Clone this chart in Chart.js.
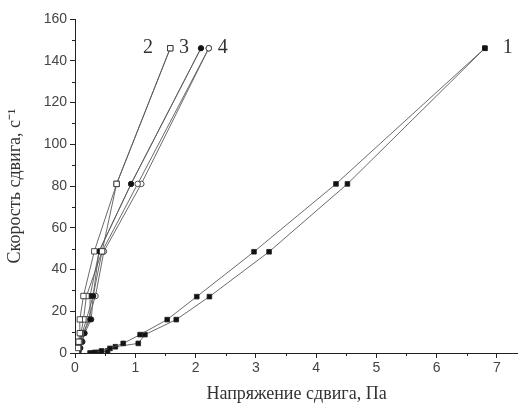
<!DOCTYPE html>
<html>
<head>
<meta charset="utf-8">
<script src="https://cdn.jsdelivr.net/npm/chart.js@4"></script>
<style>
  html, body { margin: 0; padding: 0; background: #fff; }
  #wrap { width: 518px; height: 409px; }
</style>
</head>
<body>
<div id="wrap"><canvas id="myChart"></canvas></div>
<script>
// shear rate levels (y) and shear stress (x) for each branch
const yLevels1 = [0, 0.3, 1, 2.2, 4.6, 8.8, 16, 27, 48.5, 81, 146];
const yLevels1b = [0, 0.3, 1, 3, 4.6, 8.8, 16, 27, 48.5, 81, 146];
const s1up = [0.25, 0.33, 0.44, 0.58, 0.80, 1.08, 1.53, 2.02, 2.97, 4.33, 6.80];
const s1down = [0.30, 0.40, 0.54, 0.67, 1.05, 1.16, 1.68, 2.23, 3.22, 4.52, 6.80];

const yLevels = [0.6, 2.4, 5.4, 9.5, 16.1, 27.3, 48.7, 81, 146];
const s2up = [0.03, 0.05, 0.06, 0.08, 0.08, 0.14, 0.32, 0.69, 1.58];
const s2down = [0.04, 0.06, 0.08, 0.10, 0.14, 0.19, 0.45, 0.69, 1.58];
const s3up = [0.05, 0.07, 0.10, 0.13, 0.25, 0.25, 0.40, 0.93, 2.09];
const s3down = [0.06, 0.09, 0.12, 0.16, 0.27, 0.30, 0.40, 0.93, 2.09];
const s4up = [0.04, 0.07, 0.09, 0.12, 0.19, 0.30, 0.45, 1.04, 2.22];
const s4down = [0.05, 0.08, 0.12, 0.15, 0.22, 0.34, 0.48, 1.10, 2.22];

const xTicks = [0, 1, 2, 3, 4, 5, 6, 7];
const yTicks = [0, 20, 40, 60, 80, 100, 120, 140, 160];

// curve labels (data coords)
const curveLabels = [
  { text: '1', x: 7.18, y: 146 },
  { text: '2', x: 1.21, y: 146 },
  { text: '3', x: 1.81, y: 146 },
  { text: '4', x: 2.45, y: 146 }
];

function pts(xs, ys) {
  return xs.map((x, i) => ({ x: x, y: ys[i] }));
}

const lineColor = '#5a5a5a';
function ds(xs, ys, style, filled, radius) {
  return {
    data: pts(xs, ys),
    showLine: true,
    borderColor: lineColor,
    borderWidth: 0.9,
    pointStyle: style,
    pointRadius: radius,
    pointBackgroundColor: filled ? '#111' : '#fff',
    pointBorderColor: '#222',
    pointBorderWidth: 0.8,
    fill: false,
    tension: 0
  };
}

const datasets = [
  ds(s1up, yLevels1, 'rect', true, 3.3),
  ds(s1down, yLevels1b, 'rect', true, 3.3),
  ds(s2up, yLevels, 'rect', false, 3.8),
  ds(s2down, yLevels, 'rect', false, 3.8),
  ds(s3up, yLevels, 'circle', true, 2.6),
  ds(s3down, yLevels, 'circle', true, 2.6),
  ds(s4up, yLevels, 'circle', false, 2.8),
  ds(s4down, yLevels, 'circle', false, 2.8)
];

const extras = {
  id: 'extras',
  afterDraw(chart) {
    const ctx = chart.ctx;
    const xs = chart.scales.x, ys = chart.scales.y;
    ctx.save();
    ctx.strokeStyle = '#222';
    ctx.lineWidth = 1;
    // minor ticks
    ctx.beginPath();
    for (let v = 0.5; v < 7.35; v += 1) {
      const px = Math.round(xs.getPixelForValue(v)) + 0.5;
      ctx.moveTo(px, ys.bottom);
      ctx.lineTo(px, ys.bottom + 3);
    }
    for (let v = 10; v < 160; v += 20) {
      const py = Math.round(ys.getPixelForValue(v)) + 0.5;
      ctx.moveTo(xs.left, py);
      ctx.lineTo(xs.left - 3, py);
    }
    ctx.stroke();
    // curve numbers
    ctx.fillStyle = '#333';
    ctx.font = '20px "Liberation Serif", serif';
    ctx.textAlign = 'center';
    ctx.textBaseline = 'middle';
    curveLabels.forEach(l => {
      ctx.fillText(l.text, xs.getPixelForValue(l.x), ys.getPixelForValue(l.y));
    });
    ctx.restore();
  }
};

const ctx = document.getElementById('myChart').getContext('2d');
const myChart = new Chart(ctx, {
  type: 'scatter',
  data: { datasets: datasets },
  plugins: [extras],
  options: {
    responsive: true,
    maintainAspectRatio: false,
    animation: false,
    layout: { autoPadding: false, padding: { top: 19, right: 0, left: 0, bottom: 0 } },
    plugins: {
      legend: { display: false },
      tooltip: { enabled: false }
    },
    scales: {
      x: {
        type: 'linear',
        min: 0,
        max: 7.35,
        afterBuildTicks: s => { s.ticks = xTicks.map(v => ({ value: v })); },
        afterFit: s => { s.height = 56; s.paddingRight = 0; s.paddingLeft = 0; },
        border: { display: true, color: '#222', width: 1 },
        grid: { drawOnChartArea: false, drawTicks: true, tickLength: 5, color: '#222' },
        ticks: { color: '#444', font: { family: 'Liberation Sans', size: 14 }, padding: 2 },
        title: {
          display: true,
          text: 'Напряжение сдвига, Па',
          color: '#333',
          font: { family: 'Liberation Serif', size: 18 },
          padding: { top: 7 }
        }
      },
      y: {
        type: 'linear',
        min: 0,
        max: 160,
        afterBuildTicks: s => { s.ticks = yTicks.map(v => ({ value: v })); },
        afterFit: s => { s.width = 75; s.paddingTop = 0; s.paddingBottom = 0; },
        border: { display: true, color: '#222', width: 1 },
        grid: { drawOnChartArea: false, drawTicks: true, tickLength: 5, color: '#222' },
        ticks: { color: '#444', font: { family: 'Liberation Sans', size: 14 }, padding: 3 },
        title: {
          display: true,
          text: 'Скорость сдвига, с⁻¹',
          color: '#333',
          font: { family: 'Liberation Serif', size: 18 },
          padding: { bottom: 6 }
        }
      }
    }
  }
});
</script>
</body>
</html>
